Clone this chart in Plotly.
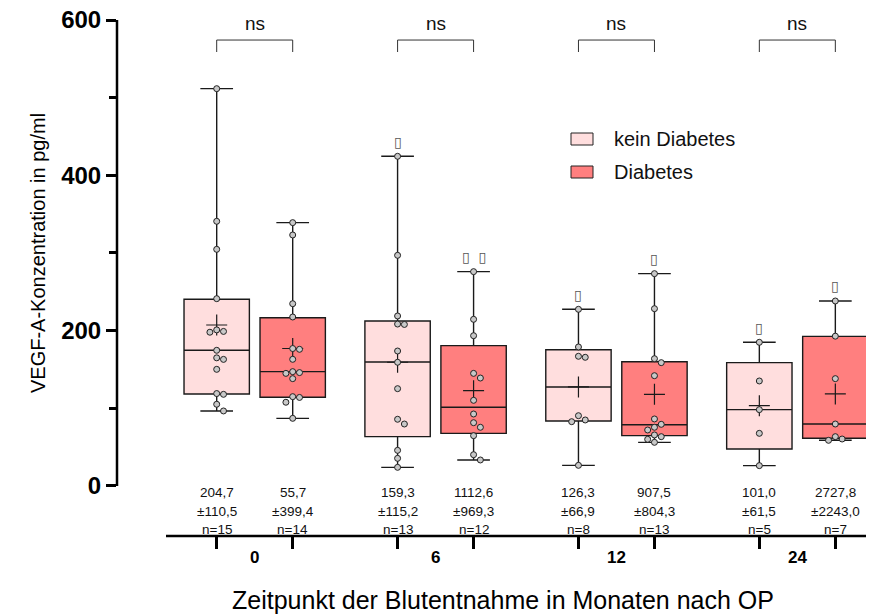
import plotly.graph_objects as go

# ---------------- data ----------------
timepoints = ["0", "6", "12", "24"]
series_names = ["kein Diabetes", "Diabetes"]

kein_q1 = [118.4, 63.5, 83.7, 47.6]
kein_median = [174.7, 159.7, 127.5, 98.3]
kein_q3 = [240.4, 212.4, 175.5, 158.8]
kein_low = [96.6, 24.0, 26.6, 26.2]
kein_high = [511.6, 424.5, 227.5, 185.0]
kein_mean = [207.3, 159.3, 127.5, 103.4]

diab_q1 = [114.2, 67.8, 64.8, 61.4]
diab_median = [147.2, 101.3, 78.9, 79.8]
diab_q3 = [216.7, 180.7, 160.0, 192.7]
diab_low = [87.1, 33.5, 56.2, 58.8]
diab_high = [339.1, 276.0, 273.4, 238.2]
diab_mean = [177.0, 122.7, 118.0, 118.5]

kein_points = [
    [511.6, 340.8, 304.7, 241.2, 201.0, 199.0, 198.0, 174.7, 165.0, 163.0, 150.2, 119.0, 118.0, 105.2, 96.6],
    [424.5, 297.0, 218.9, 208.5, 208.0, 173.8, 159.3, 125.3, 85.9, 79.8, 45.9, 35.6, 24.0],
    [227.5, 179.0, 167.0, 165.7, 90.5, 85.0, 82.8, 26.6],
    [185.0, 135.2, 98.3, 67.8, 26.2],
]
diab_points = [
    [339.1, 323.2, 234.7, 217.6, 177.0, 176.0, 163.1, 147.2, 146.0, 145.0, 138.2, 115.0, 114.0, 107.8, 87.1],
    [276.0, 214.6, 193.5, 145.0, 139.0, 110.3, 92.7, 81.5, 75.6, 64.8, 40.3, 33.5],
    [273.4, 228.3, 163.9, 158.8, 142.0, 86.3, 79.4, 75.6, 72.1, 65.7, 63.5, 60.1, 56.2],
    [238.2, 192.9, 138.2, 79.8, 63.5, 60.5, 58.8],
]

kein_mean_lbl = ["204,7", "159,3", "126,3", "101,0"]
kein_sd_lbl = ["±110,5", "±115,2", "±66,9", "±61,5"]
kein_n_lbl = ["n=15", "n=13", "n=8", "n=5"]
diab_mean_lbl = ["55,7", "1112,6", "907,5", "2727,8"]
diab_sd_lbl = ["±399,4", "±969,3", "±804,3", "±2243,0"]
diab_n_lbl = ["n=14", "n=12", "n=13", "n=7"]

kein_marks = ["", "▯", "▯", "▯"]
diab_marks = ["", "▯  ▯", "▯", "▯"]
sig_labels = ["ns", "ns", "ns", "ns"]

# ---------------- layout helpers ----------------
FONT = "Arial, Liberation Sans, sans-serif"
GROUP_SPACING = 2.38
HALF = 0.5
BOX_W = 0.86
PX_X = 76.0            # pixels per x unit
PX_Y = 516.0 / 664.4   # pixels per y unit
Y_MIN, Y_MAX = -64.4, 600
PLOT_L, PLOT_W, PLOT_B, PLOT_H = 117, 749, 536, 516

centers = [i * GROUP_SPACING for i in range(len(timepoints))]
x_kein = [c - HALF for c in centers]
x_diab = [c + HALF for c in centers]

KEIN_FILL = "#FFDEDE"
DIAB_FILL = "#FF7F7F"


def px2paper_x(px):
    return (px - PLOT_L) / PLOT_W


def px2paper_y(py):
    return (PLOT_B - py) / PLOT_H


def swarm(vals, base, d=6.8):
    placed = []
    xs = []
    for v in vals:
        y = v * PX_Y
        cands = [0.0]
        for k in range(1, 8):
            cands += [k * d, -k * d]
        for c in cands:
            if all((c - px) ** 2 + (y - py) ** 2 >= d * d for px, py in placed):
                break
        placed.append((c, y))
        xs.append(base + c / PX_X)
    return xs


fig = go.Figure()

fig.add_trace(go.Box(
    name=series_names[0], x=x_kein, q1=kein_q1, median=kein_median, q3=kein_q3,
    lowerfence=kein_low, upperfence=kein_high, width=BOX_W, whiskerwidth=0.5,
    fillcolor=KEIN_FILL, line=dict(color="#1a1a1a", width=1.4), boxpoints=False,
    showlegend=False, hoverinfo="skip"))
fig.add_trace(go.Box(
    name=series_names[1], x=x_diab, q1=diab_q1, median=diab_median, q3=diab_q3,
    lowerfence=diab_low, upperfence=diab_high, width=BOX_W, whiskerwidth=0.5,
    fillcolor=DIAB_FILL, line=dict(color="#1a1a1a", width=1.4), boxpoints=False,
    showlegend=False, hoverinfo="skip"))

# mean crosses
fig.add_trace(go.Scatter(
    x=x_kein + x_diab, y=kein_mean + diab_mean, mode="markers", showlegend=False,
    marker=dict(symbol="cross-thin", size=15, line=dict(color="#1a1a1a", width=1.2)),
    hoverinfo="skip"))

# individual points
px_all, py_all = [], []
for i in range(len(timepoints)):
    px_all += swarm(kein_points[i], x_kein[i]); py_all += kein_points[i]
    px_all += swarm(diab_points[i], x_diab[i]); py_all += diab_points[i]
fig.add_trace(go.Scatter(
    x=px_all, y=py_all, mode="markers", showlegend=False,
    marker=dict(size=6, color="#C8C8C8", line=dict(color="#222222", width=1)),
    hoverinfo="skip"))

shapes = []
annotations = []

# axis lines
shapes.append(dict(type="line", xref="paper", yref="y", x0=0, x1=0, y0=0, y1=600,
                   line=dict(color="black", width=2.5)))
shapes.append(dict(type="line", xref="paper", yref="paper",
                   x0=px2paper_x(166), x1=1.0, y0=0, y1=0,
                   line=dict(color="black", width=2.5)))

for i, c in enumerate(centers):
    shapes.append(dict(type="path", xref="x", yref="y",
                       path=f"M {x_kein[i]},558.8 L {x_kein[i]},574.2 L {x_diab[i]},574.2 L {x_diab[i]},558.8",
                       line=dict(color="#333333", width=1)))
    annotations.append(dict(x=c, y=596, xref="x", yref="y", text=sig_labels[i],
                            showarrow=False, yanchor="middle",
                            font=dict(family=FONT, size=19, color="#111")))
    annotations.append(dict(x=c, y=px2paper_y(557), xref="x", yref="paper",
                            text=f"<b>{timepoints[i]}</b>",
                            showarrow=False, yanchor="middle",
                            font=dict(family=FONT, size=17, color="black")))
    for xs, ml, sl, nl, mk, hi in [
        (x_kein[i], kein_mean_lbl[i], kein_sd_lbl[i], kein_n_lbl[i], kein_marks[i], kein_high[i]),
        (x_diab[i], diab_mean_lbl[i], diab_sd_lbl[i], diab_n_lbl[i], diab_marks[i], diab_high[i]),
    ]:
        for txt, yy in [(ml, -9.0), (sl, -33.1), (nl, -55.7)]:
            annotations.append(dict(x=xs, y=yy, xref="x", yref="y", text=txt,
                                    showarrow=False, yanchor="middle",
                                    font=dict(family=FONT, size=13.5, color="#111")))
        if mk:
            annotations.append(dict(x=xs, y=hi + 19, xref="x", yref="y", text=mk,
                                    showarrow=False, yanchor="middle",
                                    font=dict(family="DejaVu Sans", size=14, color="#555")))

# manual legend
legend_fills = [KEIN_FILL, DIAB_FILL]
for k, (nm, fc) in enumerate(zip(series_names, legend_fills)):
    cy = 139 + 33 * k
    shapes.append(dict(type="rect", xref="paper", yref="paper",
                       x0=px2paper_x(571), x1=px2paper_x(593),
                       y0=px2paper_y(cy + 6), y1=px2paper_y(cy - 6),
                       fillcolor=fc, line=dict(color="#222", width=1)))
    annotations.append(dict(x=px2paper_x(612), y=px2paper_y(cy), xref="paper", yref="paper",
                            text=nm, showarrow=False, xanchor="left", yanchor="middle",
                            font=dict(family=FONT, size=20, color="#111")))

# axis titles
annotations.append(dict(x=px2paper_x(38), y=300, xref="paper", yref="y",
                        text="VEGF-A-Konzentration in pg/ml", textangle=-90,
                        showarrow=False, xanchor="center", yanchor="middle",
                        font=dict(family=FONT, size=20, color="black")))
annotations.append(dict(x=px2paper_x(503), y=px2paper_y(600), xref="paper", yref="paper",
                        text="Zeitpunkt der Blutentnahme in Monaten nach OP",
                        showarrow=False, xanchor="center", yanchor="middle",
                        font=dict(family=FONT, size=25, color="black")))

fig.update_layout(
    width=879, height=614,
    margin=dict(l=PLOT_L, r=879 - PLOT_L - PLOT_W, t=20, b=614 - PLOT_B),
    paper_bgcolor="white", plot_bgcolor="white",
    boxmode="overlay",
    shapes=shapes, annotations=annotations,
    showlegend=False,
    xaxis=dict(range=[-(254.7 - PLOT_L) / PX_X, (PLOT_L + PLOT_W - 254.7) / PX_X],
               tickvals=x_kein + x_diab, ticktext=[""] * 8,
               ticks="outside", ticklen=12, tickwidth=2.5, tickcolor="black",
               showline=False, showgrid=False, zeroline=False, automargin=False),
    yaxis=dict(range=[Y_MIN, Y_MAX], tickvals=[0, 200, 400, 600],
               ticks="outside", ticklen=10, tickwidth=2.5, tickcolor="black",
               minor=dict(tickvals=[100, 300, 500], ticks="outside", ticklen=7,
                          tickwidth=2.5, tickcolor="black"),
               tickfont=dict(family=FONT, size=24, color="black", weight="bold"),
               showline=False, showgrid=False, zeroline=False, automargin=False),
)

fig.write_html("out.html")
